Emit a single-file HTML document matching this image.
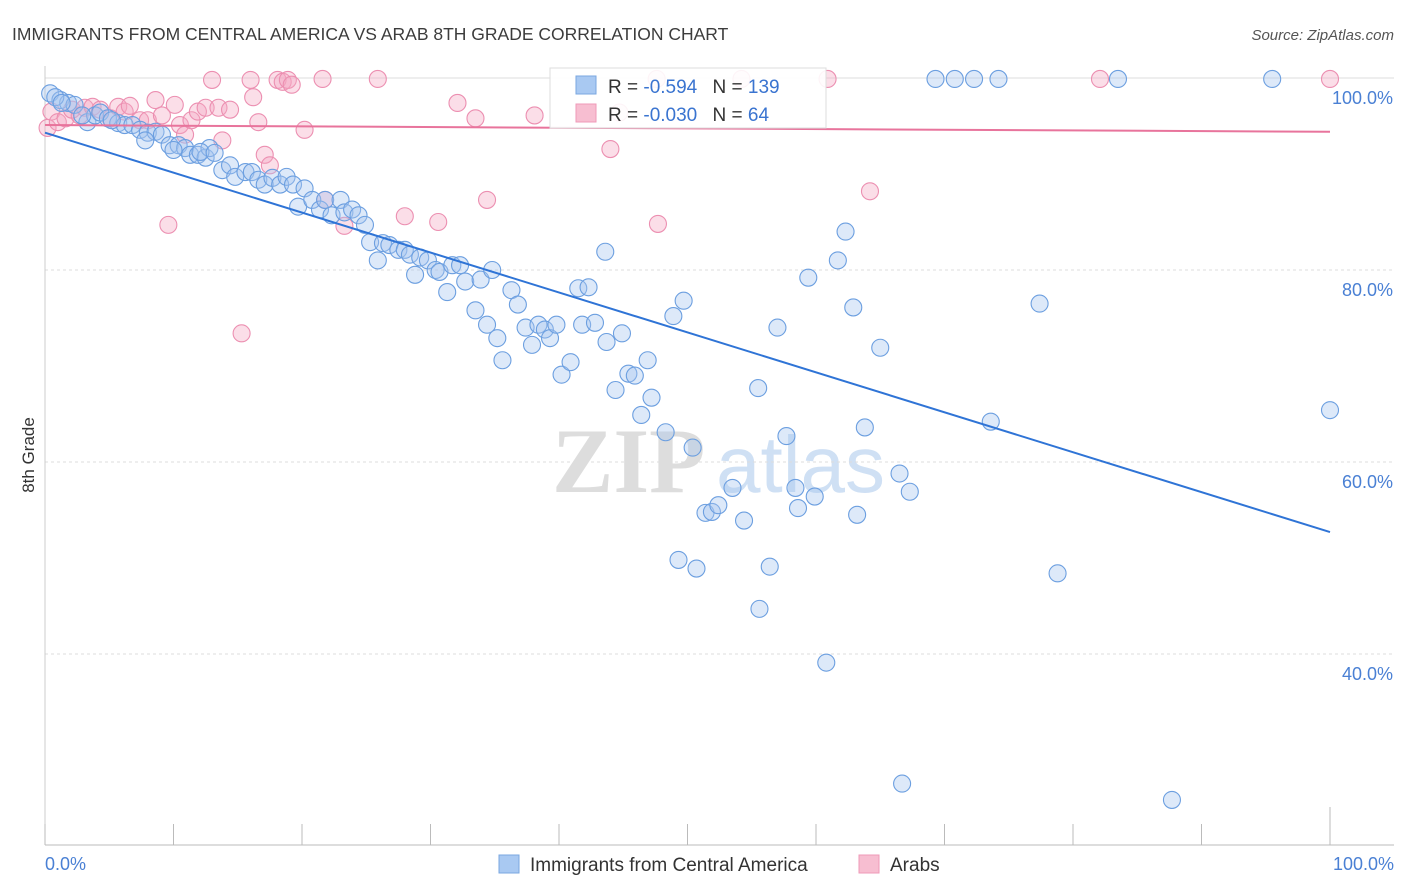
<!DOCTYPE html>
<html><head><meta charset="utf-8"><style>
body{margin:0;background:#fff;font-family:"Liberation Sans",sans-serif;}
svg{display:block}
</style></head><body>
<svg id="chart" width="1406" height="892">
<text x="12" y="40" font-size="17.5" fill="#3c3c3c">IMMIGRANTS FROM CENTRAL AMERICA VS ARAB 8TH GRADE CORRELATION CHART</text>
<text x="1394" y="40" font-size="15" fill="#555" text-anchor="end" font-style="italic">Source: ZipAtlas.com</text>
<text x="34" y="455" font-size="17" fill="#333" transform="rotate(-90 34 455)" text-anchor="middle">8th Grade</text>
<g><text x="552" y="492" font-size="92" font-family="Liberation Serif,serif" fill="#ddd" font-weight="bold">ZIP</text><text x="716" y="492" font-size="80" fill="#cfe0f4">atlas</text></g>
<g id="grid"></g><g id="marks"></g>
<g>
<rect x="550" y="68" width="276" height="60" fill="#fff" fill-opacity="0.9" stroke="#ddd"/>
<rect x="576" y="76" width="20" height="18" fill="#a9c9f2" stroke="#7aa7e0"/>
<rect x="576" y="104" width="20" height="18" fill="#f7bed1" stroke="#ef9ab8"/>
<text x="608" y="93" font-size="19" fill="#333">R = <tspan fill="#3a74d0">-0.594</tspan>   <tspan dx="10">N = </tspan><tspan fill="#3a74d0">139</tspan></text>
<text x="608" y="121" font-size="19" fill="#333">R = <tspan fill="#3a74d0">-0.030</tspan>   <tspan dx="10">N = </tspan><tspan fill="#3a74d0"> 64</tspan></text>
</g>
<g>
<rect x="499" y="855" width="20" height="18" fill="#a9c9f2" stroke="#7aa7e0"/>
<text x="530" y="871" font-size="19" fill="#333">Immigrants from Central America</text>
<rect x="859" y="855" width="20" height="18" fill="#f7bed1" stroke="#ef9ab8"/>
<text x="890" y="871" font-size="19" fill="#333">Arabs</text>
</g>
</svg>
<script>
const yTicks=[40,60,80,100];
const xTickLabels=["0.0%","100.0%"];
const blueX=[0.4,1.2,1.8,2.3,3.3,3.9,4.3,4.9,5.7,6.2,6.8,7.4,8.0,8.6,9.1,9.7,10.4,10.9,11.3,11.9,12.5,12.8,13.8,14.4,14.8,15.6,16.1,16.6,17.1,17.7,18.3,18.8,19.3,19.7,20.2,20.8,21.4,21.8,22.3,23.0,23.3,23.9,24.4,24.9,25.3,25.9,26.3,26.8,27.5,28.0,28.4,28.8,29.2,29.8,30.4,30.7,31.3,31.7,32.3,32.7,33.5,33.9,34.4,34.8,35.2,35.6,36.3,36.8,37.4,37.9,38.4,38.9,39.3,39.8,40.2,40.9,41.5,41.8,42.3,42.8,43.6,43.7,44.4,44.9,45.4,45.9,46.4,46.9,47.2,48.3,48.9,49.7,49.3,50.4,50.7,51.4,51.9,52.4,53.5,54.4,55.5,55.6,56.4,57.0,57.7,58.4,58.6,59.4,59.9,60.8,61.7,62.3,62.9,63.2,63.8,65.0,66.5,66.7,67.3,69.3,70.8,72.3,74.2,73.6,77.4,78.8,83.5,87.7,95.5,100,0.8,1.3,2.9,5.2,7.8,10.0,12.1,13.2];
const blueY=[98.4,97.7,97.4,97.2,95.4,96.1,96.4,95.8,95.3,95.1,95.1,94.6,94.3,94.4,94.1,93.0,93.0,92.7,92.0,92.0,91.7,92.7,90.4,90.9,89.7,90.2,90.2,89.4,88.9,89.6,88.9,89.7,88.9,86.6,88.5,87.3,86.3,87.3,85.7,87.3,86.0,86.3,85.7,84.7,82.9,81.0,82.8,82.6,82.1,82.1,81.6,79.5,81.3,81.0,80.0,79.8,77.7,80.5,80.5,78.8,75.8,79.0,74.3,80.0,72.9,70.6,77.9,76.4,74.0,72.2,74.3,73.8,72.9,74.3,69.1,70.4,78.1,74.3,78.2,74.5,81.9,72.5,67.5,73.4,69.2,69.0,64.9,70.6,66.7,63.1,75.2,76.8,49.8,61.5,48.9,54.7,54.8,55.5,57.3,53.9,67.7,44.7,49.1,74.0,62.7,57.3,55.2,79.2,56.4,39.1,81.0,84.0,76.1,54.5,63.6,71.9,58.8,26.5,56.9,99.9,99.9,99.9,99.9,64.2,76.5,48.4,99.9,24.8,99.9,65.4,98.0,97.4,96.1,95.6,93.5,92.5,92.3,92.2];
const pinkX=[0.2,0.5,1.0,1.6,2.1,2.7,3.1,3.7,4.3,5.1,5.7,6.2,6.6,7.4,8.0,8.6,9.1,9.6,10.1,10.5,10.9,11.4,11.9,12.5,13.0,13.5,13.8,14.4,15.3,16.0,16.2,16.6,17.1,17.5,18.1,18.5,18.9,19.2,20.2,21.6,21.8,23.3,25.9,28.0,30.6,32.1,33.5,34.4,38.1,44.0,44.7,47.7,47.6,54.2,60.9,64.2,82.1,100];
const pinkY=[94.8,96.5,95.4,95.8,96.7,96.1,96.9,97.0,96.7,95.8,97.0,96.5,97.1,95.6,95.6,97.7,96.1,84.7,97.2,95.1,94.1,95.6,96.5,96.9,99.8,96.9,93.5,96.7,73.4,99.8,98.0,95.4,92.0,90.9,99.8,99.6,99.8,99.3,94.6,99.9,87.3,84.6,99.9,85.6,85.0,97.4,95.8,87.3,96.1,92.6,96.4,84.8,99.9,99.9,99.9,88.2,99.9,99.9];
const blueTrend=[94.3,52.7];
const pinkTrend=[95.1,94.4];
const X=v=>45+v*12.85, Y=v=>78+(100-v)*9.6;
const NS="http://www.w3.org/2000/svg";
const grid=document.getElementById('grid'), marks=document.getElementById('marks');
function mk(tag,attrs,parent){const e=document.createElementNS(NS,tag);for(const k in attrs)e.setAttribute(k,attrs[k]);parent.appendChild(e);return e;}
yTicks.forEach(t=>{
 const l=mk('line',{x1:45,x2:1394,y1:Y(t),y2:Y(t),stroke:'#ddd','stroke-dasharray':t==100?'none':'3,3'},grid);
 
 
 const tx=mk('text',{x:1393,y:Y(t)+26,'font-size':18,fill:'#4a80d4','text-anchor':'end'},grid);
 tx.textContent=t.toFixed(1)+'%';
 
 
});
const ax=mk('line',{x1:45,x2:1394,y1:845,y2:845,stroke:'#bbb'},grid);


const ay=mk('line',{x1:45,x2:45,y1:66,y2:845,stroke:'#ccc'},grid);


for(let i=0;i<=10;i++){
 const t=mk('line',{x1:X(i*10),x2:X(i*10),y1:i==10?807:824,y2:845,stroke:'#bbb'},grid);
 
 
}
[[0,'start',45],[100,'end',1394]].forEach((d,i)=>{
 const tx=mk('text',{x:d[2],y:870,'font-size':18,fill:'#4a80d4','text-anchor':d[1]},grid);
 tx.textContent=xTickLabels[i];
 
 
});
function dots(xs,ys,fill,stroke,name){
 xs.forEach((x,i)=>{
  const c=mk('circle',{cx:X(x),cy:Y(ys[i]),r:8.5,fill:fill,'fill-opacity':0.38,stroke:stroke,'stroke-width':1.1},marks);
  
  
 });
}
dots(pinkX,pinkY,'#f5a9c2','#ec8fb1','arab-point');
dots(blueX,blueY,'#a6c6f0','#6c9fe0','central-america-point');
const bl=mk('line',{x1:X(0),y1:Y(blueTrend[0]),x2:X(100),y2:Y(blueTrend[1]),stroke:'#2f74d6','stroke-width':2},marks);


const pl=mk('line',{x1:X(0),y1:Y(pinkTrend[0]),x2:X(100),y2:Y(pinkTrend[1]),stroke:'#e8749c','stroke-width':2},marks);


</script>
</body></html>
